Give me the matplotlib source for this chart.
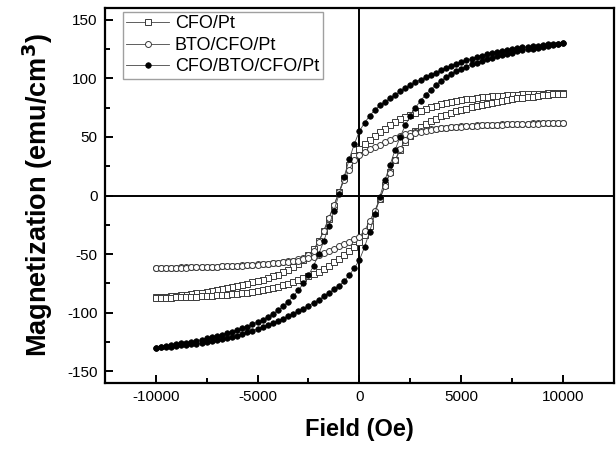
import numpy as np
import matplotlib
matplotlib.use("Agg")
import matplotlib.pyplot as plt
from matplotlib.ticker import MultipleLocator

plt.rcParams['font.family'] = ['Liberation Sans', 'DejaVu Sans']
plt.rcParams['axes.unicode_minus'] = False

# field grid of the sweep (Oe), 250 Oe steps
field_down = list(range(10000, -10001, -250))
field_up = list(range(-10000, 10001, 250))

# CFO/Pt (open squares)
cfo_down = [87.5, 87.4, 87.3, 87.2, 87.0, 86.9, 86.7, 86.5, 86.3, 86.0, 85.8, 85.6,
            85.3, 85.0, 84.7, 84.4, 84.0, 83.4, 82.8, 82.2, 81.5, 80.6, 79.8, 78.9,
            78.0, 76.7, 75.3, 74.0, 72.5, 70.6, 68.8, 66.9, 65.0, 62.5, 60.0, 57.0,
            54.0, 51.0, 47.5, 44.0, 40.0, 34.0, 26.0, 15.0, 3.0, -9.0, -20.0, -30.0,
            -39.0, -46.0, -51.0, -55.0, -58.5, -61.0, -63.5, -65.5, -67.5, -69.0,
            -70.5, -71.8, -73.0, -74.2, -75.3, -76.4, -77.5, -78.4, -79.3, -80.2,
            -81.0, -81.6, -82.3, -82.9, -83.5, -84.0, -84.5, -85.0, -85.5, -85.9,
            -86.3, -86.7, -87.0]
cfo_up = [-87.5, -87.4, -87.3, -87.2, -87.0, -86.9, -86.7, -86.5, -86.3, -86.0, -85.8,
          -85.6, -85.3, -85.0, -84.7, -84.4, -84.0, -83.4, -82.8, -82.2, -81.5, -80.6,
          -79.8, -78.9, -78.0, -76.7, -75.3, -74.0, -72.5, -70.6, -68.8, -66.9, -65.0,
          -62.5, -60.0, -57.0, -54.0, -51.0, -47.5, -44.0, -40.0, -34.0, -26.0, -15.0,
          -3.0, 9.0, 20.0, 30.0, 39.0, 46.0, 51.0, 55.0, 58.5, 61.0, 63.5, 65.5, 67.5,
          69.0, 70.5, 71.8, 73.0, 74.2, 75.3, 76.4, 77.5, 78.4, 79.3, 80.2, 81.0, 81.6,
          82.3, 82.9, 83.5, 84.0, 84.5, 85.0, 85.5, 85.9, 86.3, 86.7, 87.0]

# BTO/CFO/Pt (open circles)
bto_down = [62.0, 62.0, 61.9, 61.8, 61.7, 61.6, 61.5, 61.4, 61.2, 61.1, 61.0, 60.8,
            60.7, 60.5, 60.3, 60.2, 60.0, 59.8, 59.5, 59.3, 59.0, 58.7, 58.3, 57.9,
            57.5, 57.0, 56.5, 56.0, 55.5, 54.5, 53.5, 52.3, 51.0, 49.3, 47.5, 45.5,
            43.5, 41.5, 39.5, 37.5, 35.0, 30.0, 22.0, 13.0, 3.0, -8.0, -19.0, -30.0,
            -40.0, -47.0, -51.0, -53.0, -54.5, -55.5, -56.3, -56.9, -57.4, -57.8,
            -58.2, -58.5, -58.8, -59.1, -59.4, -59.6, -59.8, -60.0, -60.2, -60.4,
            -60.6, -60.7, -60.9, -61.0, -61.1, -61.2, -61.3, -61.4, -61.5, -61.6,
            -61.7, -61.9, -62.0]
bto_up = [-62.0, -62.0, -61.9, -61.8, -61.7, -61.6, -61.5, -61.4, -61.2, -61.1, -61.0,
          -60.8, -60.7, -60.5, -60.3, -60.2, -60.0, -59.8, -59.5, -59.3, -59.0, -58.7,
          -58.3, -57.9, -57.5, -57.0, -56.5, -56.0, -55.5, -54.5, -53.5, -52.3, -51.0,
          -49.3, -47.5, -45.5, -43.5, -41.5, -39.5, -37.5, -35.0, -30.0, -22.0, -13.0,
          -3.0, 8.0, 19.0, 30.0, 40.0, 47.0, 51.0, 53.0, 54.5, 55.5, 56.3, 56.9, 57.4,
          57.8, 58.2, 58.5, 58.8, 59.1, 59.4, 59.6, 59.8, 60.0, 60.2, 60.4, 60.6, 60.7,
          60.9, 61.0, 61.1, 61.2, 61.3, 61.4, 61.5, 61.6, 61.7, 61.9, 62.0]

# CFO/BTO/CFO/Pt (filled circles)
tri_down = [130.0, 129.7, 129.3, 129.0, 128.5, 128.0, 127.5, 127.0, 126.5, 125.8, 125.0,
            124.3, 123.5, 122.5, 121.5, 120.5, 119.5, 118.2, 116.8, 115.4, 114.0, 112.3,
            110.5, 108.8, 107.0, 105.0, 103.0, 101.0, 99.0, 96.5, 94.0, 91.5, 89.0, 86.0,
            83.0, 80.0, 77.0, 73.0, 68.0, 62.0, 55.0, 44.0, 31.0, 16.0, 1.0, -13.0, -26.0,
            -39.0, -50.0, -60.0, -68.0, -75.0, -81.0, -86.0, -90.5, -94.5, -98.0, -101.0,
            -103.5, -106.0, -108.0, -110.0, -112.0, -113.5, -115.0, -116.3, -117.5,
            -118.8, -120.0, -121.0, -122.0, -123.0, -124.0, -124.8, -125.5, -126.3,
            -127.0, -127.8, -128.5, -129.3, -130.0]
tri_up = [-130.0, -129.7, -129.3, -129.0, -128.5, -128.0, -127.5, -127.0, -126.5, -125.8,
          -125.0, -124.3, -123.5, -122.5, -121.5, -120.5, -119.5, -118.2, -116.8, -115.4,
          -114.0, -112.3, -110.5, -108.8, -107.0, -105.0, -103.0, -101.0, -99.0, -96.5,
          -94.0, -91.5, -89.0, -86.0, -83.0, -80.0, -77.0, -73.0, -68.0, -62.0, -55.0,
          -44.0, -31.0, -16.0, -1.0, 13.0, 26.0, 39.0, 50.0, 60.0, 68.0, 75.0, 81.0, 86.0,
          90.5, 94.5, 98.0, 101.0, 103.5, 106.0, 108.0, 110.0, 112.0, 113.5, 115.0, 116.3,
          117.5, 118.8, 120.0, 121.0, 122.0, 123.0, 124.0, 124.8, 125.5, 126.3, 127.0,
          127.8, 128.5, 129.3, 130.0]

labels = ['CFO/Pt', 'BTO/CFO/Pt', 'CFO/BTO/CFO/Pt']

fig = plt.figure(figsize=(6.16, 4.5), dpi=100)
ax = fig.add_axes([0.170, 0.149, 0.827, 0.833])

ax.axhline(0, color='black', lw=1.4, zorder=1)
ax.axvline(0, color='black', lw=1.4, zorder=1)

styles = [
    dict(marker='s', mfc='white', mec='#3a3a3a', ms=4.0, mew=0.7),
    dict(marker='o', mfc='white', mec='#3a3a3a', ms=4.3, mew=0.7),
    dict(marker='o', mfc='black', mec='black', ms=4.0, mew=0.5),
]
loops = [(cfo_down, cfo_up), (bto_down, bto_up), (tri_down, tri_up)]

for (down, up), lab, st in zip(loops, labels, styles):
    ax.plot(field_down + field_up, down + up, color='#444444', lw=0.6,
            label=lab, zorder=3, **st)

ax.set_xlim(-12500, 12500)
ax.set_ylim(-160, 160)
ax.xaxis.set_major_locator(MultipleLocator(5000))
ax.xaxis.set_minor_locator(MultipleLocator(2500))
ax.yaxis.set_major_locator(MultipleLocator(50))
ax.yaxis.set_minor_locator(MultipleLocator(25))
ax.tick_params(which='both', direction='in', top=False, right=False,
               labelsize=11, width=1.4)
ax.tick_params(which='major', length=6, pad=5)
ax.tick_params(which='minor', length=3.5)
for s in ax.spines.values():
    s.set_linewidth(1.6)

ax.set_xlabel('Field (Oe)', fontsize=17, fontweight='bold', labelpad=10)
ax.set_ylabel('Magnetization (emu/cm$^\\mathbf{3}$)', fontsize=19.5,
              fontweight='bold', labelpad=9)

leg = ax.legend(loc='upper left', bbox_to_anchor=(0.035, 0.99), fontsize=13,
                frameon=True, fancybox=False, handlelength=2.4,
                handletextpad=0.3, borderpad=0.2, labelspacing=0.25,
                borderaxespad=0.0)
leg.get_frame().set_edgecolor('#888888')
leg.get_frame().set_linewidth(1.0)

fig.savefig('out.png', dpi=100)
